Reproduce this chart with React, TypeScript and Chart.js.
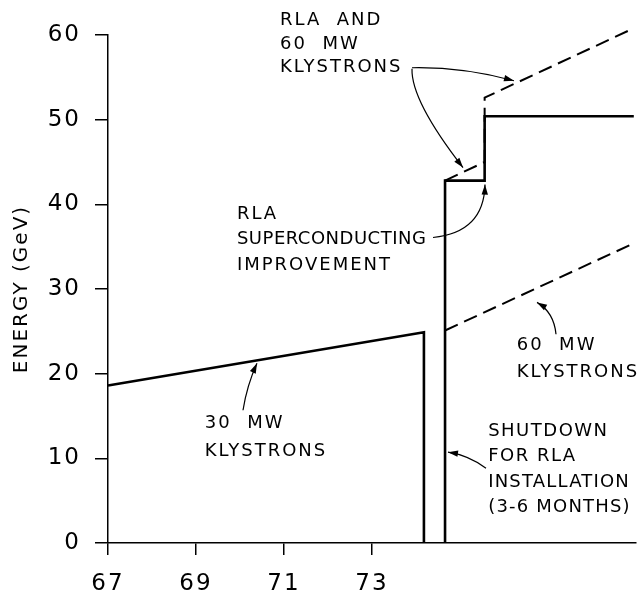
import React, { useEffect, useRef } from 'react';
import { Chart, registerables } from 'chart.js';

Chart.register(...registerables);

// ---- data ----
const xTickValues = [67, 69, 71, 73];
const yMin = 0;
const yMax = 60;
const yStep = 10;
const xMin = 67;
const xMax = 79;

// 30 MW klystrons (solid), then shutdown drop
const years30MW = [67, 74.18, 74.18];
const energy30MW = [18.6, 24.9, 0];
// RLA superconducting improvement (solid)
const yearsRLA = [74.66, 74.66, 75.56, 75.56, 78.95];
const energyRLA = [0, 42.8, 42.8, 50.4, 50.4];
// 60 MW klystrons (dashed)
const years60MW = [74.66, 78.95];
const energy60MW = [25.1, 35.4];
// RLA and 60 MW klystrons (dashed)
const yearsRLA60 = [74.66, 75.56, 75.56, 78.95];
const energyRLA60 = [42.8, 45.0, 52.6, 60.8];

// ---- annotations (data coordinates) ----
const labelTexts = [
  ['RLA  AND', '60  MW', 'KLYSTRONS'],
  ['RLA', 'SUPERCONDUCTING', 'IMPROVEMENT'],
  ['30  MW', 'KLYSTRONS'],
  ['60  MW', 'KLYSTRONS'],
  ['SHUTDOWN', 'FOR RLA', 'INSTALLATION', '(3-6 MONTHS)'],
];
const labelSpacing = [
  [2, 2, 2],
  [2, 0.5, 2],
  [2, 2],
  [2, 2],
  [1.5, 1.5, 1.2, 1.2],
];
const labelX = [70.91, 69.93, 69.2, 76.29, 75.64];
const labelY = [
  [61.77, 58.94, 56.13],
  [38.8, 35.85, 32.78],
  [14.09, 10.85],
  [23.35, 20.11],
  [13.15, 10.2, 7.13, 4.19],
];

// arrows: [fromX, fromY, ctrlX, ctrlY, tipX, tipY]
const arrows = [
  [73.909, 56.13, 75.045, 56.25, 76.227, 54.6],
  [73.909, 56.01, 73.886, 52.24, 75.068, 44.34],
  [74.386, 36.08, 75.545, 36.67, 75.568, 42.33],
  [70.068, 15.68, 70.159, 18.63, 70.386, 21.23],
  [77.182, 24.65, 77.136, 27.24, 76.75, 28.42],
  [75.591, 8.84, 75.182, 10.38, 74.727, 10.73],
];

const FONT = '"DejaVu Sans", sans-serif';

function pts(xs: number[], ys: number[]) {
  return xs.map((x, i) => ({ x, y: ys[i] }));
}

const annotationPlugin = {
  id: 'annotations',
  beforeDraw(chart: any) {
    chart.ctx.letterSpacing = '2px';
  },
  afterDatasetsDraw(chart: any) {
    const { ctx, scales } = chart;
    const xs = scales.x;
    const ys = scales.y;
    ctx.save();
    ctx.fillStyle = '#000';
    ctx.strokeStyle = '#000';
    ctx.font = `18px ${FONT}`;
    ctx.textAlign = 'left';
    ctx.textBaseline = 'middle';
    labelTexts.forEach((lines, i) => {
      lines.forEach((t, j) => {
        ctx.letterSpacing = `${labelSpacing[i][j]}px`;
        ctx.fillText(t, xs.getPixelForValue(labelX[i]), ys.getPixelForValue(labelY[i][j]));
      });
    });
    ctx.letterSpacing = '0px';
    ctx.lineWidth = 1.2;
    arrows.forEach((a) => {
      const fx = xs.getPixelForValue(a[0]);
      const fy = ys.getPixelForValue(a[1]);
      const cx = xs.getPixelForValue(a[2]);
      const cy = ys.getPixelForValue(a[3]);
      const tx = xs.getPixelForValue(a[4]);
      const ty = ys.getPixelForValue(a[5]);
      ctx.beginPath();
      ctx.moveTo(fx, fy);
      ctx.quadraticCurveTo(cx, cy, tx, ty);
      ctx.stroke();
      const ang = Math.atan2(ty - cy, tx - cx);
      const len = 10;
      const hw = 3.2;
      ctx.beginPath();
      ctx.moveTo(tx, ty);
      ctx.lineTo(tx - len * Math.cos(ang) + hw * Math.sin(ang), ty - len * Math.sin(ang) - hw * Math.cos(ang));
      ctx.lineTo(tx - len * Math.cos(ang) - hw * Math.sin(ang), ty - len * Math.sin(ang) + hw * Math.cos(ang));
      ctx.closePath();
      ctx.fill();
    });
    ctx.restore();
  },
};

export default function App() {
  const ref = useRef<HTMLCanvasElement | null>(null);
  useEffect(() => {
    document.body.style.margin = '0';
    const canvas = ref.current;
    if (!canvas) return;
    const solid = { borderColor: '#000', borderWidth: 2.6, pointRadius: 0, showLine: true, tension: 0, clip: false as any };
    const dashed = { ...solid, borderWidth: 2, borderDash: [14, 7] };
    const chart = new Chart(canvas, {
      type: 'scatter',
      data: {
        datasets: [
          { label: '30 MW klystrons', data: pts(years30MW, energy30MW), ...solid },
          { label: 'RLA superconducting improvement', data: pts(yearsRLA, energyRLA), ...solid },
          { label: '60 MW klystrons', data: pts(years60MW, energy60MW), ...dashed },
          { label: 'RLA and 60 MW klystrons', data: pts(yearsRLA60, energyRLA60), ...dashed },
        ],
      },
      options: {
        animation: false,
        responsive: false,
        devicePixelRatio: 1,
        layout: { padding: { top: 35, right: 5, left: 0, bottom: 0 } },
        plugins: { legend: { display: false }, tooltip: { enabled: false } },
        scales: {
          x: {
            type: 'linear',
            min: xMin,
            max: xMax,
            afterBuildTicks: (s: any) => {
              s.ticks = xTickValues.map((v) => ({ value: v }));
            },
            afterFit: (s: any) => {
              s.height = 53;
            },
            grid: { drawOnChartArea: false, tickLength: 12, color: '#000', lineWidth: 1.5 },
            border: { color: '#000', width: 1.5 },
            ticks: {
              color: '#000',
              font: { size: 23, family: FONT },
              padding: 15,
              maxRotation: 0,
              callback: (v: any) => String(v),
            },
          },
          y: {
            type: 'linear',
            min: yMin,
            max: yMax,
            ticks: {
              stepSize: yStep,
              color: '#000',
              font: { size: 23, family: FONT },
              padding: 14,
            },
            afterFit: (s: any) => {
              s.width = 108;
            },
            grid: { drawOnChartArea: false, tickLength: 13, color: '#000', lineWidth: 1.5 },
            border: { color: '#000', width: 1.5 },
            title: {
              display: true,
              text: 'ENERGY (GeV)',
              color: '#000',
              font: { size: 20, family: FONT, weight: 'normal' },
              padding: { top: 10, bottom: 0 },
            },
          },
        },
      },
      plugins: [annotationPlugin],
    });
    return () => chart.destroy();
  }, []);
  return (
    <div style={{ width: 641, height: 596, background: '#fff' }}>
      <canvas ref={ref} width={641} height={596} style={{ display: 'block' }} />
    </div>
  );
}
